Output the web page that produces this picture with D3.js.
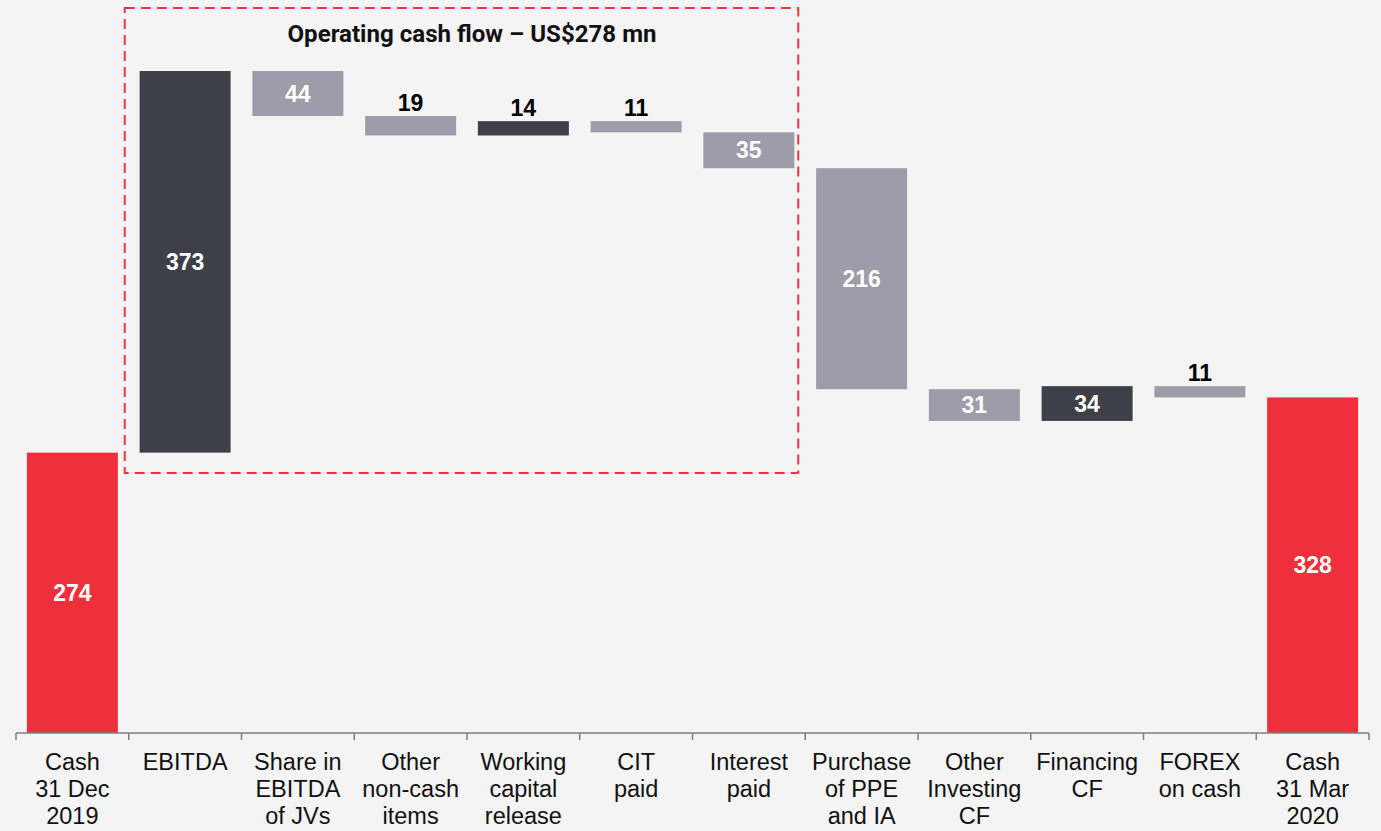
<!DOCTYPE html>
<html>
<head>
<meta charset="utf-8">
<script src="https://cdn.jsdelivr.net/npm/d3@7"></script>
<style>
  body { margin: 0; background: #f4f4f4; }
  svg { display: block; }
</style>
</head>
<body>
<div id="chart"></div>
<script>
// data
var categories = [
  ["Cash", "31 Dec", "2019"],
  ["EBITDA"],
  ["Share in", "EBITDA", "of JVs"],
  ["Other", "non-cash", "items"],
  ["Working", "capital", "release"],
  ["CIT", "paid"],
  ["Interest", "paid"],
  ["Purchase", "of PPE", "and IA"],
  ["Other", "Investing", "CF"],
  ["Financing", "CF"],
  ["FOREX", "on cash"],
  ["Cash", "31 Mar", "2020"]
];
var changes = [274, 373, -44, -19, 14, -11, -35, -216, -31, 34, -11, 328];
var isTotal = [true, false, false, false, false, false, false, false, false, false, false, true];
var boxTitle = "Operating cash flow \u2013 US$278 mn";

var W = 1381, H = 831;
var svg = d3.select("#chart").append("svg").attr("width", W).attr("height", H);
svg.append("rect").attr("width", W).attr("height", H).attr("fill", "#f4f4f4");

// build running levels
var rows = [];
var level = 0;
changes.forEach(function(v, i) {
  var lo, hi;
  if (isTotal[i]) { lo = 0; hi = v; level = v; }
  else { lo = Math.min(level, level + v); hi = Math.max(level, level + v); level = level + v; }
  rows.push({ i: i, v: v, lo: lo, hi: hi, total: isTotal[i] });
});

var x = d3.scaleBand().domain(d3.range(categories.length)).range([16, 1369]).padding(0);
var y = d3.scaleLinear().domain([0, 647]).range([733, 71]);
var bw = x.bandwidth() * 0.807;

function color(d) {
  if (d.total) return "#ef2f3c";
  return d.v > 0 ? "#3f3f4a" : "#9e9ca8";
}

// dashed box around operating items
var boxX0 = x(1) - 4, boxX1 = x(6) + x.bandwidth() - 7;
svg.append("rect")
  .attr("x", boxX0).attr("y", 8)
  .attr("width", boxX1 - boxX0).attr("height", 465)
  .attr("fill", "none").attr("stroke", "#ef3340")
  .attr("stroke-width", 2).attr("stroke-dasharray", "10,6");

svg.append("text")
  .attr("x", 472).attr("y", 42)
  .attr("text-anchor", "middle")
  .attr("font-family", "Roboto, sans-serif").attr("font-weight", "bold")
  .attr("font-size", 24).attr("fill", "#111")
  .attr("textLength", 369).attr("lengthAdjust", "spacingAndGlyphs")
  .text(boxTitle);

// bars
svg.selectAll("rect.bar").data(rows).enter().append("rect")
  .attr("class", "bar")
  .attr("x", function(d) { return x(d.i) + (x.bandwidth() - bw) / 2; })
  .attr("y", function(d) { return y(d.hi); })
  .attr("width", bw)
  .attr("height", function(d) { return y(d.lo) - y(d.hi); })
  .attr("fill", color);

// value labels
svg.selectAll("text.val").data(rows).enter().append("text")
  .attr("class", "val")
  .attr("x", function(d) { return x(d.i) + x.bandwidth() / 2; })
  .attr("y", function(d) {
    var h = y(d.lo) - y(d.hi);
    if (h < 25) return y(d.hi) - 5;
    return (y(d.lo) + y(d.hi)) / 2 + 8;
  })
  .attr("text-anchor", "middle")
  .attr("font-family", "'Liberation Sans', Arial, sans-serif").attr("font-weight", "bold")
  .attr("font-size", 23)
  .attr("fill", function(d) { return (y(d.lo) - y(d.hi)) < 25 ? "#000" : "#fff"; })
  .text(function(d) { return Math.abs(d.v); });

// axis line and boundary ticks
svg.append("line")
  .attr("x1", 16).attr("x2", 1369).attr("y1", 733).attr("y2", 733)
  .attr("stroke", "#7f7f7f").attr("stroke-width", 1.5);
var bounds = d3.range(categories.length + 1).map(function(i) {
  return i < categories.length ? x(i) : x(i - 1) + x.bandwidth();
});
svg.selectAll("line.tick").data(bounds).enter().append("line")
  .attr("class", "tick")
  .attr("x1", function(d) { return d; }).attr("x2", function(d) { return d; })
  .attr("y1", 733).attr("y2", 740)
  .attr("stroke", "#7f7f7f").attr("stroke-width", 1.5);

// category labels
var cat = svg.selectAll("text.cat").data(categories).enter().append("text")
  .attr("class", "cat")
  .attr("text-anchor", "middle")
  .attr("font-family", "'Liberation Sans', Arial, sans-serif")
  .attr("font-size", 23.5).attr("fill", "#111");
cat.each(function(lines, i) {
  var t = d3.select(this);
  lines.forEach(function(s, k) {
    t.append("tspan")
      .attr("x", x(i) + x.bandwidth() / 2)
      .attr("y", 770 + k * 27)
      .text(s);
  });
});
</script>
</body>
</html>
